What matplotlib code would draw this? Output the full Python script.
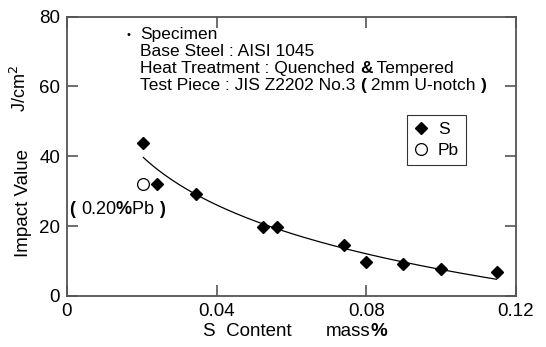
import numpy as np
import matplotlib
matplotlib.use('Agg')
import matplotlib.pyplot as plt

plt.rcParams['font.family'] = ['Liberation Sans', 'DejaVu Sans']

# S-added steels
s_content = [0.0204, 0.0240, 0.0345, 0.0525, 0.0560, 0.0740, 0.0798, 0.0898, 0.0999, 0.1148]
s_impact = [43.9, 32.2, 29.2, 19.7, 19.7, 14.7, 9.7, 9.3, 7.6, 6.9]

# Pb-added steel
pb_content = [0.0204]
pb_impact = [32.2]

x_ticks = [0, 0.04, 0.08, 0.12]
x_ticklabels = ['0', '0.04', '0.08', '0.12']
y_ticks = [0, 20, 40, 60, 80]

spec_lines = [[('Specimen', 'normal')],
              [('Base Steel : AISI 1045', 'normal')],
              [('Heat Treatment : Quenched ', 'normal'), ('&', 'bold'), (' Tempered', 'normal')],
              [('Test Piece : JIS Z2202 No.3 ', 'normal'), ('(', 'bold'), (' 2mm U-notch ', 'normal'), (')', 'bold')]]
pb_note = [('( ', 'bold'), ('0.20', 'normal'), ('%', 'bold'), ('Pb ', 'normal'), (')', 'bold')]
xlabel_parts = [('mass', 'normal'), ('%', 'bold')]

frame_col = '#555555'

fig = plt.figure(figsize=(5.46, 3.47), dpi=100)
ax = fig.add_axes([0.1227, 0.147, 0.8223, 0.805])
renderer = fig.canvas.get_renderer()


def rich_text(x, y, parts, transform, size):
    # draw pieces side by side, switching weight where needed
    t = transform
    for s, w in parts:
        txt = fig.text(x, y, s, transform=t, fontsize=size, weight=w, va='center')
        ext = txt.get_window_extent(renderer)
        t = matplotlib.transforms.offset_copy(txt.get_transform(), fig=fig, x=ext.width, units='dots')


# logarithmic trend line fitted to the S data
b, a = np.polyfit(np.log(s_content), s_impact, 1)
xf = np.linspace(min(s_content), max(s_content), 200)
ax.plot(xf, a + b * np.log(xf), color='black', lw=0.9)

ax.plot(s_content, s_impact, 'D', color='black', ms=6.3, label='S')
ax.plot(pb_content, pb_impact, 'o', mfc='white', mec='black', mew=0.9, ms=8.5, label='Pb')

ax.set_xlim(0, 0.12)
ax.set_ylim(0, 80)
ax.set_xticks(x_ticks)
ax.set_xticklabels(x_ticklabels)
ax.set_yticks(y_ticks)
ax.tick_params(axis='both', direction='in', top=True, right=True, length=8, width=1.2,
               color=frame_col, labelsize=13.5)
ax.tick_params(axis='x', pad=5)
ax.tick_params(axis='y', pad=5)

for sp in ax.spines.values():
    sp.set_visible(True)
    sp.set_linewidth(1.3)
    sp.set_color(frame_col)

ax.text(0.0165, 74.8, '•', fontsize=8, ha='center', va='center')
for i, line in enumerate(spec_lines):
    rich_text(0.0196, 74.8 - i * 4.8, line, ax.transData, 12.5)

rich_text(0.0008, 24.7, pb_note, ax.transData, 13)

leg = ax.legend(loc='upper left', bbox_to_anchor=(0.757, 0.648), frameon=True, fancybox=False,
                edgecolor='black', fontsize=12.5, handlelength=0.8, handletextpad=0.6,
                borderpad=0.4, labelspacing=0.35, borderaxespad=0)
leg.get_frame().set_linewidth(0.8)

fig.text(0.043, 0.415, 'Impact Value', rotation=90, fontsize=13.5, ha='center', va='center')
fig.text(0.037, 0.745, r'J/cm$^2$', rotation=90, fontsize=13, ha='center', va='center')
fig.text(0.372, 0.045, 'S  Content', fontsize=13.5, va='center')
rich_text(0.596, 0.045, xlabel_parts, fig.transFigure, 13.5)

fig.savefig('out.png', dpi=100)
